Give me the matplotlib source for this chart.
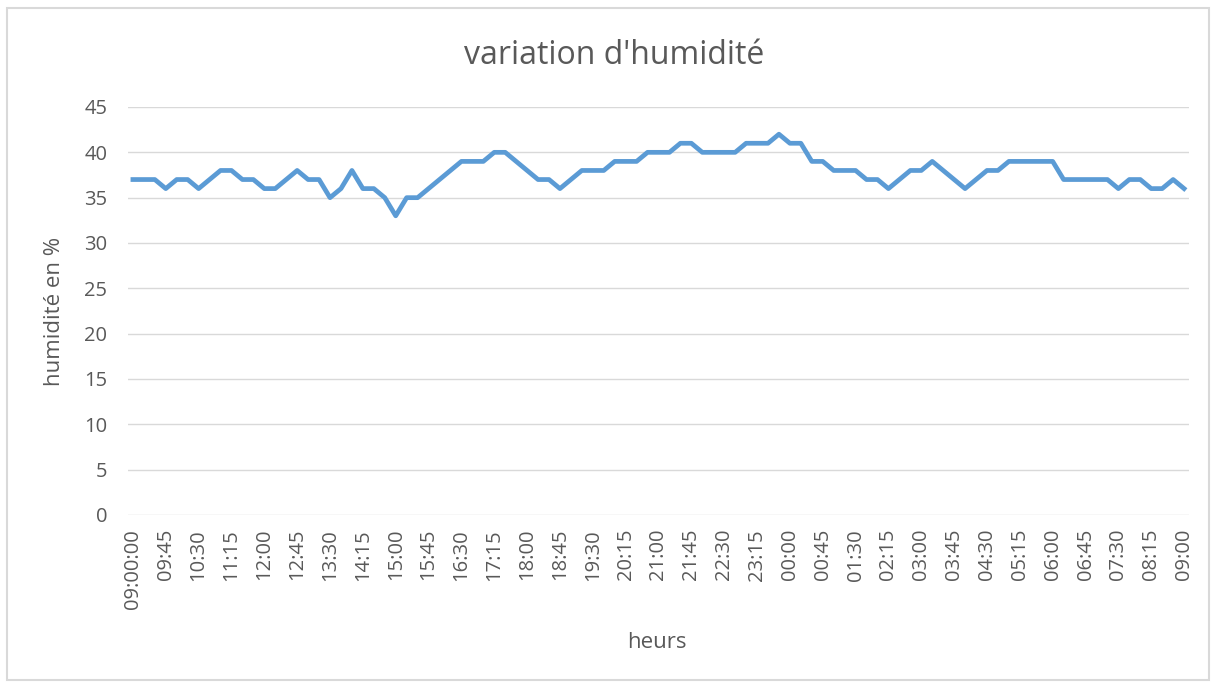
import matplotlib
matplotlib.use("Agg")
import matplotlib.pyplot as plt
from matplotlib.patches import Rectangle

# humidité relevée toutes les 15 minutes, de 09:00 à 09:00 le lendemain
humidite = [37, 37, 37, 36, 37, 37, 36, 37, 38, 38, 37, 37, 36, 36, 37, 38,
            37, 37, 35, 36, 38, 36, 36, 35, 33, 35, 35, 36, 37, 38, 39, 39,
            39, 40, 40, 39, 38, 37, 37, 36, 37, 38, 38, 38, 39, 39, 39, 40,
            40, 40, 41, 41, 40, 40, 40, 40, 41, 41, 41, 42, 41, 41, 39, 39,
            38, 38, 38, 37, 37, 36, 37, 38, 38, 39, 38, 37, 36, 37, 38, 38,
            39, 39, 39, 39, 39, 37, 37, 37, 37, 37, 36, 37, 37, 36, 36, 37, 36]

etiquettes = ["09:00:00", "09:45", "10:30", "11:15", "12:00", "12:45", "13:30",
              "14:15", "15:00", "15:45", "16:30", "17:15", "18:00", "18:45",
              "19:30", "20:15", "21:00", "21:45", "22:30", "23:15", "00:00",
              "00:45", "01:30", "02:15", "03:00", "03:45", "04:30", "05:15",
              "06:00", "06:45", "07:30", "08:15", "09:00"]

gris = "#595959"
plt.rcParams['font.family'] = ['Open Sans', 'DejaVu Sans']

fig = plt.figure(figsize=(12.16, 6.86), dpi=100)
# cadre du graphique
fig.patches.append(Rectangle((0.006, 0.009), 0.988, 0.98, transform=fig.transFigure,
                             fill=False, edgecolor="#d9d9d9", linewidth=1.5))

ax = fig.add_axes([128 / 1216, 1 - 515 / 686, (1189 - 128) / 1216, (515 - 107) / 686])
x = list(range(len(humidite)))
ax.plot(x, humidite, color="#5b9bd5", linewidth=3.4, solid_joinstyle="round")

ax.set_ylim(0, 45)
ax.set_yticks(range(0, 46, 5))
ax.set_xlim(-0.45, len(humidite) - 1 + 0.45)
ax.set_xticks(range(0, len(humidite), 3))
ax.set_xticklabels(etiquettes, rotation=90)
ax.grid(axis="y", color="#d9d9d9", linewidth=1)
ax.set_axisbelow(True)
for s in ax.spines.values():
    s.set_visible(False)
ax.tick_params(axis="both", length=0, labelsize=14.5, colors=gris)
ax.tick_params(axis="y", pad=15)
ax.tick_params(axis="x", pad=10)

fig.text(55 / 1216, 1 - 311 / 686, "humidité en %", rotation=90, fontsize=16,
         color=gris, ha="center", va="center")
fig.text(657 / 1216, 1 - 642 / 686, "heurs", fontsize=16, color=gris,
         ha="center", va="center")
fig.text(614 / 1216, 1 - 55 / 686, "variation d'humidité", fontsize=23,
         color=gris, ha="center", va="center")

fig.savefig("out.png", dpi=100)
